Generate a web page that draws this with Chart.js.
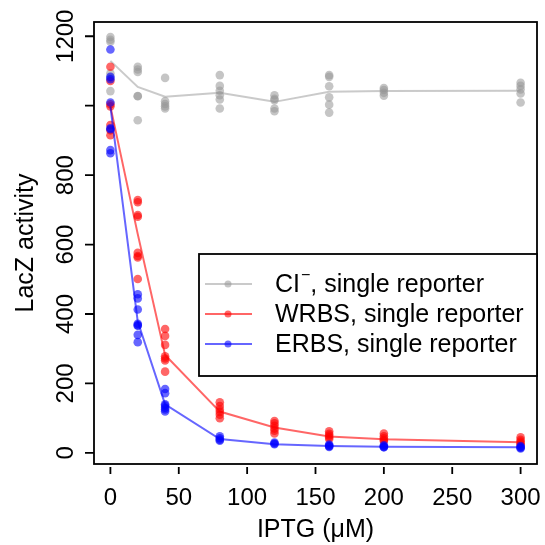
<!DOCTYPE html>
<html>
<head>
<meta charset="utf-8">
<script src="https://cdn.jsdelivr.net/npm/chart.js@4.4.1/dist/chart.umd.min.js"></script>
<style>
  html, body { margin: 0; padding: 0; background: #fff; }
  canvas { display: block; }
</style>
</head>
<body>
<canvas id="lacz" width="545" height="545"></canvas>
<script>
const doses = [0, 20, 40, 80, 120, 160, 200, 300];

// replicate measurements at each IPTG dose
const ciReps = [
  [1198, 1190, 1184, 1093, 1080, 1042],
  [1112, 1104, 1097, 1028, 1027, 958],
  [1080, 1013, 1005, 998, 992],
  [1088, 1057, 1043, 1030, 1018, 992],
  [1030, 1020, 1016, 992, 984],
  [1088, 1083, 1056, 1024, 1003, 980],
  [1051, 1045, 1037, 1029],
  [1066, 1057, 1047, 1035, 1009]
];
const wrbsReps = [
  [1112, 1071, 1004, 998, 944, 929, 915],
  [728, 722, 685, 680, 576, 567, 563, 501],
  [357, 337, 311, 278, 272, 266, 234],
  [146, 135, 125, 118, 110, 100],
  [92, 85, 78, 70, 64, 56],
  [62, 55, 50, 45, 40],
  [56, 48, 42, 37, 34],
  [45, 38, 33, 28, 24]
];
const erbsReps = [
  [1162, 1083, 1076, 1009, 935, 932, 872, 863],
  [457, 445, 413, 372, 368, 366, 340, 319],
  [184, 172, 140, 136, 130, 125, 119],
  [48, 42, 38, 35],
  [30, 27, 25],
  [24, 21, 19, 17],
  [22, 19, 17, 16],
  [20, 17, 15, 13]
];

// per-dose means, joined by the lines
const ciMean = [1129, 1054, 1026, 1037, 1011, 1040, 1042, 1043];
const wrbsMean = [998, 630, 282, 119, 73, 47, 39, 31];
const erbsMean = [997, 378, 140, 40, 25, 20, 18, 16];

const seriesLabels = ['CI⁻, single reporter', 'WRBS, single reporter', 'ERBS, single reporter'];
const xTicks = [0, 50, 100, 150, 200, 250, 300];
const yTicks = [0, 200, 400, 600, 800, 1000, 1200];
const yTickLabels = ['0', '200', '400', '600', '800', '', '1200'];

const FONT = '"Liberation Sans", Arial, Helvetica, sans-serif';
const grayPt = 'rgba(150,150,150,0.55)', grayLn = 'rgba(150,150,150,0.5)';
const redPt = 'rgba(255,0,0,0.6)', redLn = 'rgba(255,0,0,0.6)';
const bluePt = 'rgba(0,0,255,0.6)', blueLn = 'rgba(0,0,255,0.6)';

const toPoints = reps => doses.flatMap((d, i) => reps[i].map(v => ({ x: d, y: v })));
const toLine = means => doses.map((d, i) => ({ x: d, y: means[i] }));

function pointSet(reps, color, order) {
  return { data: toPoints(reps), pointBackgroundColor: color, pointBorderWidth: 0,
           pointRadius: 4.3, showLine: false, order: order };
}
function lineSet(means, color, order) {
  return { data: toLine(means), borderColor: color, borderWidth: 2, pointRadius: 0,
           showLine: true, fill: false, order: order };
}

// "CI⁻" gets its minus drawn as a raised, smaller glyph
function drawLabel(ctx, text, x, y) {
  const parts = text.split('⁻');
  ctx.font = '25px ' + FONT;
  ctx.fillText(parts[0], x, y);
  if (parts.length < 2) return;
  let cx = x + ctx.measureText(parts[0]).width + 1;
  ctx.font = '16px ' + FONT;
  ctx.fillText('−', cx, y - 12);
  cx += ctx.measureText('−').width;
  ctx.font = '25px ' + FONT;
  ctx.fillText(parts[1], cx, y);
}

const frameAndAxes = {
  id: 'frameAndAxes',
  afterDraw(chart) {
    const { ctx, chartArea: a, scales: { x, y } } = chart;
    ctx.save();
    ctx.strokeStyle = '#000';
    ctx.fillStyle = '#000';
    ctx.lineWidth = 1.8;
    ctx.strokeRect(a.left, a.top, a.right - a.left, a.bottom - a.top);

    // x axis ticks and labels
    ctx.beginPath();
    xTicks.forEach(v => {
      const px = x.getPixelForValue(v);
      ctx.moveTo(px, a.bottom + 3);
      ctx.lineTo(px, a.bottom + 10);
    });
    ctx.stroke();
    ctx.font = '24px ' + FONT;
    ctx.textAlign = 'center';
    ctx.textBaseline = 'alphabetic';
    xTicks.forEach(v => ctx.fillText(String(v), x.getPixelForValue(v), 505));
    ctx.font = '25px ' + FONT;
    ctx.fillText('IPTG (μM)', (a.left + a.right) / 2, 537);

    // y axis ticks and rotated labels
    ctx.beginPath();
    yTicks.forEach(v => {
      const py = y.getPixelForValue(v);
      ctx.moveTo(a.left - 9, py);
      ctx.lineTo(a.left, py);
    });
    ctx.stroke();
    ctx.font = '24px ' + FONT;
    yTicks.forEach((v, i) => {
      ctx.save();
      ctx.translate(a.left - 21, y.getPixelForValue(v));
      ctx.rotate(-Math.PI / 2);
      ctx.fillText(yTickLabels[i], 0, 0);
      ctx.restore();
    });
    ctx.font = '25px ' + FONT;
    ctx.save();
    ctx.translate(33, (a.top + a.bottom) / 2);
    ctx.rotate(-Math.PI / 2);
    ctx.fillText('LacZ activity', 0, 0);
    ctx.restore();

    // legend box
    const box = { left: 199, top: 254, right: a.right, bottom: 376 };
    ctx.fillStyle = '#fff';
    ctx.fillRect(box.left, box.top, box.right - box.left, box.bottom - box.top);
    ctx.strokeRect(box.left, box.top, box.right - box.left, box.bottom - box.top);
    const colors = [[grayLn, grayPt], [redLn, redPt], [blueLn, bluePt]];
    ctx.textAlign = 'left';
    seriesLabels.forEach((label, i) => {
      const ry = 284 + i * 30;
      ctx.strokeStyle = colors[i][0];
      ctx.lineWidth = 2;
      ctx.beginPath();
      ctx.moveTo(205, ry);
      ctx.lineTo(252, ry);
      ctx.stroke();
      ctx.fillStyle = colors[i][1];
      ctx.beginPath();
      ctx.arc(228, ry, 3.5, 0, Math.PI * 2);
      ctx.fill();
      ctx.fillStyle = '#000';
      drawLabel(ctx, label, 275, ry + 8);
    });
    ctx.restore();
  }
};

new Chart(document.getElementById('lacz'), {
  type: 'scatter',
  data: {
    datasets: [
      pointSet(erbsReps, bluePt, 1),
      lineSet(erbsMean, blueLn, 2),
      pointSet(wrbsReps, redPt, 3),
      lineSet(wrbsMean, redLn, 4),
      pointSet(ciReps, grayPt, 5),
      lineSet(ciMean, grayLn, 6)
    ]
  },
  options: {
    responsive: false,
    animation: false,
    devicePixelRatio: 1,
    events: [],
    layout: { padding: { left: 94, top: 22, right: 8, bottom: 81 } },
    plugins: { legend: { display: false }, tooltip: { enabled: false } },
    scales: {
      x: { type: 'linear', min: -12, max: 312, display: false },
      y: { type: 'linear', min: -32, max: 1241, display: false }
    }
  },
  plugins: [frameAndAxes]
});
</script>
</body>
</html>
